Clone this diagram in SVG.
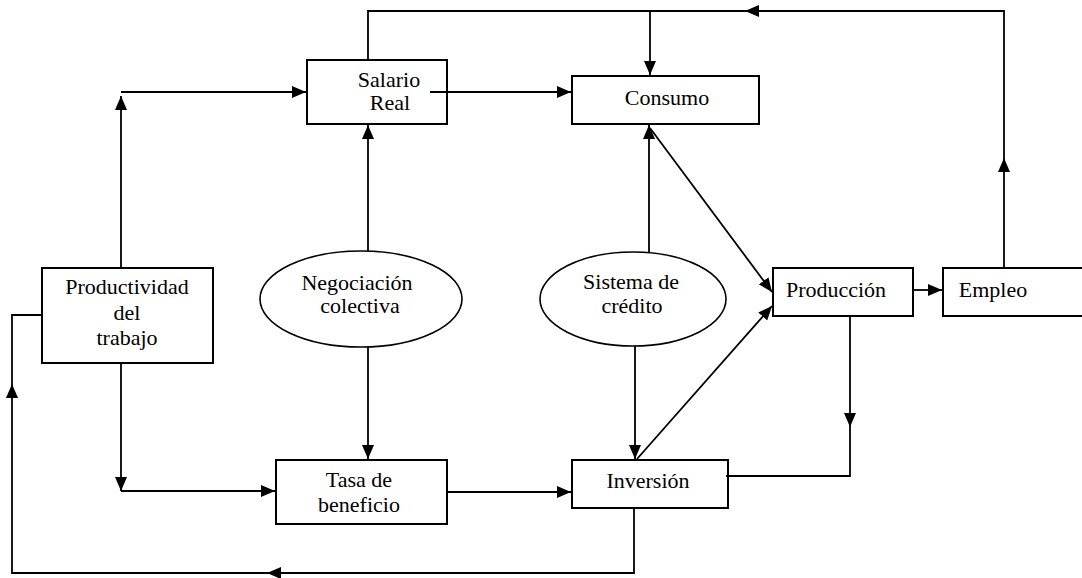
<svg xmlns="http://www.w3.org/2000/svg" width="1082" height="578" viewBox="0 0 1082 578">
<style>
.box{fill:#fff;stroke:#000;stroke-width:2}
.ell{fill:#fff;stroke:#000;stroke-width:1.6}
.t{font-family:"Liberation Serif","Times New Roman",serif;font-size:22px;fill:#000;text-anchor:middle}
.c{fill:none;stroke:#000;stroke-width:1.8}
.a{marker-end:url(#ah)}
</style>
<defs>
<marker id="ah" markerUnits="userSpaceOnUse" markerWidth="14" markerHeight="12" refX="14" refY="6" orient="auto">
<path d="M0,0 L14,6 L0,12 z" fill="#000"/>
</marker>
</defs>
<rect width="1082" height="578" fill="#fff"/>
<g id="salario">
<rect class="box" x="307" y="60" width="140" height="64"/>
<text class="t" x="389" y="87">Salario</text>
<text class="t" x="390" y="110">Real</text>
</g>
<g id="consumo">
<rect class="box" x="572" y="76" width="187" height="48"/>
<text class="t" x="667" y="105">Consumo</text>
</g>
<g id="productividad">
<rect class="box" x="42" y="268" width="171" height="95"/>
<text class="t" x="127" y="294">Productividad</text>
<text class="t" x="127" y="320">del</text>
<text class="t" x="127" y="345">trabajo</text>
</g>
<g id="negociacion">
<ellipse class="ell" cx="361" cy="299" rx="101" ry="48"/>
<text class="t" x="357" y="290">Negociación</text>
<text class="t" x="360" y="313">colectiva</text>
</g>
<g id="sistema">
<ellipse class="ell" cx="633" cy="299" rx="93" ry="47"/>
<text class="t" x="631" y="289">Sistema de</text>
<text class="t" x="632" y="313">crédito</text>
</g>
<g id="produccion">
<rect class="box" x="773" y="268" width="140" height="48"/>
<text class="t" x="836" y="297">Producción</text>
</g>
<g id="empleo">
<rect class="box" x="943" y="268" width="150" height="48"/>
<text class="t" x="993" y="297">Empleo</text>
</g>
<g id="tasa">
<rect class="box" x="276" y="460" width="171" height="64"/>
<text class="t" x="359" y="487">Tasa de</text>
<text class="t" x="359" y="512">beneficio</text>
</g>
<g id="inversion">
<rect class="box" x="572" y="460" width="156" height="48"/>
<text class="t" x="648" y="488">Inversión</text>
</g>
<g id="connectors">
<path class="c a" d="M121,268 V96"/>
<path class="c a" d="M121,92 H306"/>
<path class="c a" d="M430,92 H571"/>
<path class="c a" d="M1004,268 V158"/>
<path class="c a" d="M1004,158 V11 H745"/>
<path class="c" d="M745,11 H368 V60"/>
<path class="c a" d="M650,11 V75"/>
<path class="c a" d="M368,251 V125"/>
<path class="c a" d="M368,347 V459"/>
<path class="c a" d="M121,363 V491"/>
<path class="c a" d="M121,491 H275"/>
<path class="c a" d="M634,508 V573 H267"/>
<path class="c a" d="M267,573 H12 V384"/>
<path class="c" d="M12,384 V315 H42"/>
<path class="c a" d="M447,492 H571"/>
<path class="c a" d="M649,252 V125"/>
<path class="c a" d="M635,346 V459"/>
<path class="c a" d="M650,128 L772,292"/>
<path class="c a" d="M637,459 L772,306"/>
<path class="c a" d="M913,290 H942"/>
<path class="c a" d="M850,316 V427"/>
<path class="c" d="M850,427 V476 H726"/>
</g>
</svg>
